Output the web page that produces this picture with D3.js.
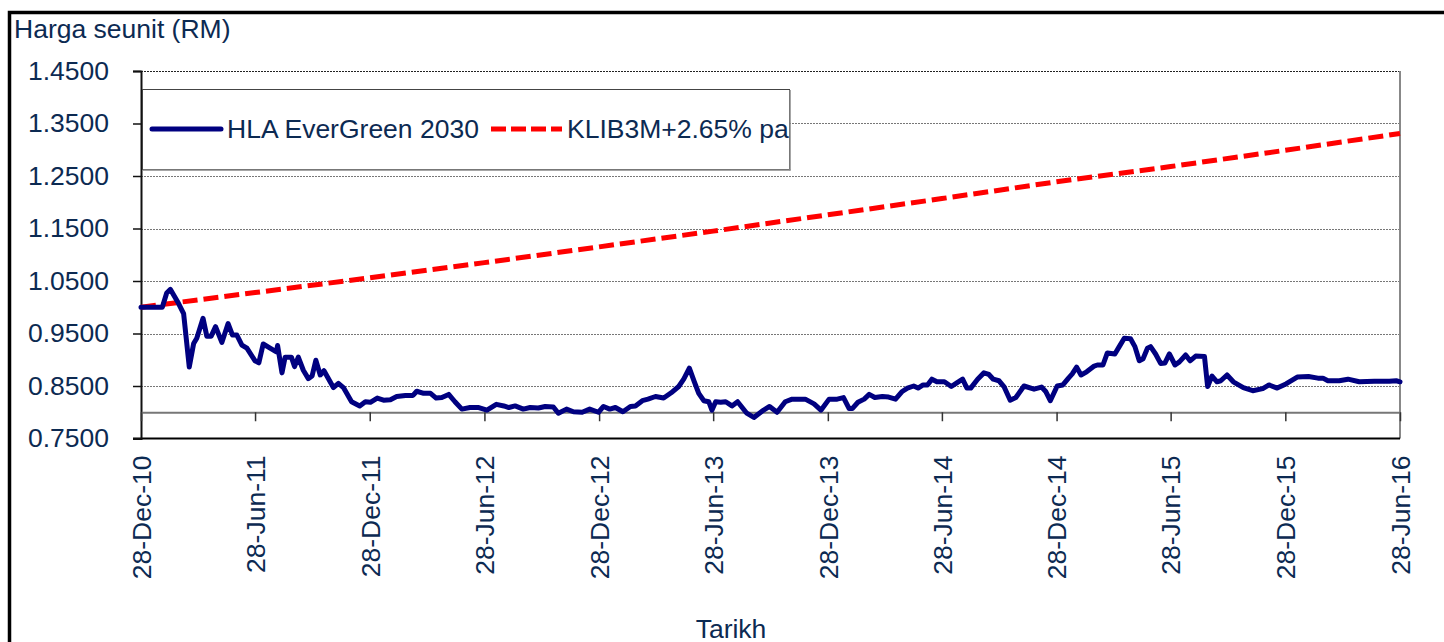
<!DOCTYPE html>
<html>
<head>
<meta charset="utf-8">
<script src="https://cdn.jsdelivr.net/npm/d3@7"></script>
<style>
  html, body { margin: 0; padding: 0; background: #fff; }
  svg { display: block; font-family: "Liberation Sans", Arial, sans-serif; }
</style>
</head>
<body>
<svg id="chart" width="1444" height="642"></svg>
<script>
// ---------- DATA ----------
const startDate = "2010-12-28";
const endDate = "2016-06-28";
const yTickValues = [0.75, 0.85, 0.95, 1.05, 1.15, 1.25, 1.35, 1.45];
const gridValues = [0.85, 0.95, 1.05, 1.15, 1.25, 1.35, 1.45];
const xTickDates = ["2010-12-28","2011-06-28","2011-12-28","2012-06-28","2012-12-28","2013-06-28",
                    "2013-12-28","2014-06-28","2014-12-28","2015-06-28","2015-12-28","2016-06-28"];
const seriesNames = ["HLA EverGreen 2030", "KLIB3M+2.65% pa"];

// Fund unit price: days since 28-Dec-10 and value (RM)
const fundDays = [0,34,41,47,60,68,77,84,89,99,105,112,119,129,139,146,153,161,169,182,188,195,206,216,218,225,230,240,245,251,
  259,267,273,279,286,292,307,315,323,336,349,358,366,377,387,398,408,422,434,440,451,462,471,480,491,501,512,525,539,552,
  567,579,587,597,610,621,634,645,658,666,679,690,704,716,730,738,748,757,769,781,789,800,809,821,834,846,858,866,875,883,
  890,898,906,911,917,925,933,943,952,966,978,991,1003,1015,1028,1039,1052,1060,1074,1085,1098,1111,1121,1130,1135,1144,1154,1162,1171,1183,
  1193,1204,1214,1223,1233,1240,1248,1255,1262,1270,1282,1293,1303,1311,1318,1324,1335,1345,1353,1360,1369,1377,1387,1396,1409,1425,1437,1444,1451,1462,
  1471,1480,1486,1493,1500,1509,1521,1526,1535,1542,1554,1561,1569,1579,1586,1593,1599,1606,1611,1619,1627,1634,1641,1650,1657,1667,1674,1683,1697,1702,
  1709,1717,1723,1733,1743,1759,1774,1790,1800,1813,1827,1845,1863,1878,1886,1894,1912,1926,1944,1968,1992,2003,2009];
const fundValues = [1.000,1.000,1.027,1.034,1.007,0.988,0.886,0.931,0.941,0.979,0.945,0.945,0.963,0.933,0.969,0.947,0.947,0.928,0.922,0.898,0.894,0.930,0.922,0.915,0.927,0.875,0.905,0.905,0.887,0.905,
  0.880,0.864,0.869,0.899,0.871,0.879,0.847,0.855,0.847,0.820,0.812,0.820,0.819,0.827,0.823,0.824,0.830,0.832,0.832,0.840,0.836,0.836,0.827,0.828,0.834,0.820,0.806,0.809,0.809,0.804,
  0.815,0.812,0.809,0.812,0.806,0.809,0.808,0.811,0.810,0.798,0.806,0.801,0.800,0.806,0.800,0.811,0.806,0.809,0.801,0.811,0.812,0.822,0.825,0.830,0.827,0.837,0.849,0.863,0.884,0.858,
  0.836,0.822,0.820,0.804,0.820,0.819,0.820,0.812,0.820,0.799,0.790,0.802,0.811,0.800,0.820,0.825,0.825,0.825,0.816,0.804,0.825,0.825,0.828,0.807,0.807,0.819,0.825,0.834,0.828,0.830,
  0.829,0.825,0.839,0.846,0.850,0.846,0.852,0.852,0.863,0.858,0.858,0.849,0.857,0.863,0.846,0.846,0.863,0.875,0.872,0.863,0.860,0.849,0.823,0.828,0.850,0.844,0.848,0.839,0.822,0.850,
  0.852,0.865,0.873,0.886,0.871,0.877,0.888,0.890,0.890,0.913,0.911,0.925,0.941,0.940,0.925,0.898,0.902,0.922,0.925,0.911,0.893,0.894,0.911,0.890,0.896,0.909,0.898,0.907,0.906,0.849,
  0.869,0.858,0.860,0.871,0.858,0.847,0.841,0.845,0.852,0.846,0.854,0.867,0.868,0.865,0.865,0.860,0.860,0.863,0.858,0.859,0.859,0.860,0.858];

// Benchmark (KLIB3M + 2.65% pa)
const benchDays = [0,182,365,548,731,913,1096,1278,1461,1643,1826,2009];
const benchValues = [1.000,1.028,1.056,1.085,1.115,1.145,1.176,1.207,1.239,1.268,1.299,1.331];

// ---------- CHART ----------
(function () {
const svg = d3.select("#chart");
const textColor = "#0c2a52";
const fontSize = "26.5px";
const parse = d3.utcParse("%Y-%m-%d");
const t0 = parse(startDate);
const toDate = d => new Date(t0.getTime() + d * 86400000);

const pLeft = 141, pRight = 1400, pTop = 71, pBottom = 438.5;
const x = d3.scaleUtc().domain([parse(startDate), parse(endDate)]).range([pLeft, pRight]);
const y = d3.scaleLinear().domain([0.75, 1.45]).range([pBottom, pTop]);

// outer frame
svg.append("rect").attr("x", 9.5).attr("y", 12.5).attr("width", 1500).attr("height", 700)
  .attr("fill", "none").attr("stroke", "#000").attr("stroke-width", 3.5);

// title
svg.append("text").attr("x", 14).attr("y", 38).attr("fill", textColor)
  .style("font-size", fontSize).text("Harga seunit (RM)");

// gridlines
svg.append("g").selectAll("line").data(gridValues).join("line")
  .attr("x1", pLeft).attr("x2", pRight)
  .attr("y1", d => Math.round(y(d)) + 0.5).attr("y2", d => Math.round(y(d)) + 0.5)
  .attr("stroke", d => d === 1.45 ? "#222" : "#777")
  .attr("stroke-width", 1.2).attr("stroke-dasharray", "2,1");

// right border of plot
svg.append("line").attr("x1", pRight).attr("x2", pRight).attr("y1", pTop).attr("y2", pBottom)
  .attr("stroke", "#888").attr("stroke-width", 2);

// bottom border of plot
svg.append("line").attr("x1", 133).attr("x2", pRight).attr("y1", pBottom).attr("y2", pBottom)
  .attr("stroke", "#000").attr("stroke-width", 2);

// y axis
const yAxis = d3.axisLeft(y).tickValues(yTickValues).tickFormat(d3.format(".4f")).tickSize(8).tickPadding(24);
const gy = svg.append("g").attr("transform", `translate(${pLeft},0)`).call(yAxis);
gy.select(".domain").attr("stroke", "#111").attr("stroke-width", 2);
gy.selectAll(".tick line").attr("stroke", "#111").attr("stroke-width", 1.5);
gy.selectAll(".tick text").attr("fill", textColor).style("font-size", fontSize)
  .style("font-family", "'Liberation Sans', Arial, sans-serif");

// x axis (crossing at 0.80)
const xAxis = d3.axisBottom(x).tickValues(xTickDates.map(parse)).tickFormat(d3.utcFormat("%d-%b-%y"))
  .tickSize(9).tickSizeOuter(0);
const gx = svg.append("g").attr("transform", `translate(0,${y(0.80)})`).call(xAxis);
gx.select(".domain").attr("stroke", "#777").attr("stroke-width", 2);
gx.selectAll(".tick line").attr("stroke", "#333").attr("stroke-width", 1.5);
gx.selectAll(".tick text")
  .attr("fill", textColor).style("font-size", fontSize)
  .style("font-family", "'Liberation Sans', Arial, sans-serif")
  .attr("text-anchor", "end")
  .attr("transform", `translate(0,${455.5 - y(0.80)}) rotate(-90)`)
  .attr("x", 0).attr("y", 0).attr("dy", "0.35em");

// x axis title
svg.append("text").attr("x", 731).attr("y", 637.5).attr("text-anchor", "middle")
  .attr("fill", textColor).style("font-size", fontSize).text("Tarikh");

// lines
const fundData = fundDays.map((d, i) => ({ date: toDate(d), value: fundValues[i] }));
const benchData = benchDays.map((d, i) => ({ date: toDate(d), value: benchValues[i] }));
const line = d3.line().x(d => x(d.date)).y(d => y(d.value));

svg.append("path").datum(benchData).attr("d", line)
  .attr("fill", "none").attr("stroke", "#ff0000").attr("stroke-width", 5)
  .attr("stroke-dasharray", "15,6");

svg.append("path").datum(fundData).attr("d", line)
  .attr("fill", "none").attr("stroke", "#000080").attr("stroke-width", 5)
  .attr("stroke-linejoin", "round").attr("stroke-linecap", "round");

// legend
const lg = svg.append("g");
lg.append("rect").attr("x", 142.5).attr("y", 89.5).attr("width", 647).attr("height", 80)
  .attr("fill", "#fff").attr("stroke", "#444").attr("stroke-width", 1);
lg.append("line").attr("x1", 790).attr("x2", 790).attr("y1", 90).attr("y2", 170.5)
  .attr("stroke", "#888").attr("stroke-width", 1.5);
lg.append("line").attr("x1", 143).attr("x2", 790.5).attr("y1", 170).attr("y2", 170)
  .attr("stroke", "#888").attr("stroke-width", 1.5);
lg.append("line").attr("x1", 152).attr("x2", 221).attr("y1", 129).attr("y2", 129)
  .attr("stroke", "#000080").attr("stroke-width", 5).attr("stroke-linecap", "round");
lg.append("text").attr("x", 227).attr("y", 137.5).attr("fill", textColor)
  .style("font-size", fontSize).text(seriesNames[0]);
lg.append("line").attr("x1", 491).attr("x2", 562).attr("y1", 129).attr("y2", 129)
  .attr("stroke", "#ff0000").attr("stroke-width", 5).attr("stroke-dasharray", "15,5");
lg.append("text").attr("x", 567).attr("y", 137.5).attr("fill", textColor)
  .style("font-size", fontSize).text(seriesNames[1]);
})();
</script>
</body>
</html>
